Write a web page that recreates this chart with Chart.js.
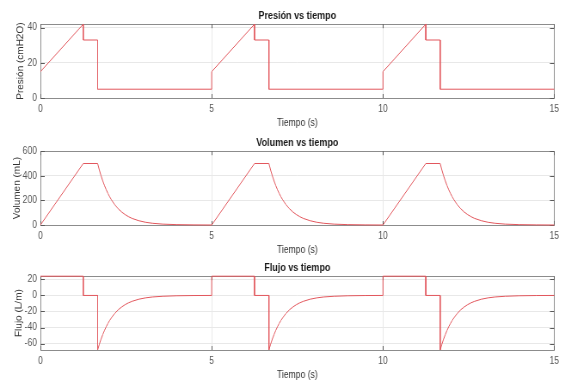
<!DOCTYPE html>
<html lang="es">
<head>
<meta charset="utf-8">
<title>Presión, volumen y flujo vs tiempo</title>
<script src="https://cdn.jsdelivr.net/npm/chart.js@4.4.1/dist/chart.umd.min.js"></script>
<style>
  html, body { margin: 0; padding: 0; background: #ffffff; overflow: hidden; }
  #contenedor { position: relative; width: 563px; height: 380px; overflow: hidden; }
  /* la figura original esta comprimida en horizontal: se dibuja mas ancha y se escala */
  canvas { position: absolute; left: 0; transform-origin: 0 0; transform: scaleX(0.86); }
</style>
</head>
<body>
<div id="contenedor">
  <canvas id="graficoPresion" width="655" height="129" style="top:0px"></canvas>
  <canvas id="graficoVolumen" width="655" height="129" style="top:127px"></canvas>
  <canvas id="graficoFlujo" width="655" height="129" style="top:252px"></canvas>
</div>
<script>
// ticks de los ejes
const ticksTiempo = [0, 5, 10, 15];
const ticksPresion = [0, 20, 40];
const ticksVolumen = [0, 200, 400, 600];
const ticksFlujo = [-60, -40, -20, 0, 20];

// presion (cmH2O)
const tiempoPresion = [0, 1.25, 1.25, 1.67, 1.67, 5.0,
    5.0, 6.25, 6.25, 6.67, 6.67, 10.0,
    10.0, 11.25, 11.25, 11.67, 11.67, 15.0];
const presion = [15, 42, 33, 33, 5, 5,
    15, 42, 33, 33, 5, 5,
    15, 42, 33, 33, 5, 5];

// volumen (mL)
const tiempoVolumen = [0, 1.25,
    1.67, 1.72, 1.77, 1.82, 1.87, 1.92, 1.97, 2.02, 2.07, 2.17, 2.27, 2.37, 2.47, 2.57, 2.67, 2.87, 3.07, 3.27, 3.57, 3.97, 4.47, 5.0,
    6.25,
    6.67, 6.72, 6.77, 6.82, 6.87, 6.92, 6.97, 7.02, 7.07, 7.17, 7.27, 7.37, 7.47, 7.57, 7.67, 7.87, 8.07, 8.27, 8.57, 8.97, 9.47, 10.0,
    11.25,
    11.67, 11.72, 11.77, 11.82, 11.87, 11.92, 11.97, 12.02, 12.07, 12.17, 12.27, 12.37, 12.47, 12.57, 12.67, 12.87, 13.07, 13.27, 13.57, 13.97, 14.47, 15.0];
const volumen = [0, 500,
    500, 447, 400, 358, 321, 287, 257, 230, 206, 165, 132, 106, 85, 68, 54, 35, 22, 14, 7, 3, 1, 0,
    500,
    500, 447, 400, 358, 321, 287, 257, 230, 206, 165, 132, 106, 85, 68, 54, 35, 22, 14, 7, 3, 1, 0,
    500,
    500, 447, 400, 358, 321, 287, 257, 230, 206, 165, 132, 106, 85, 68, 54, 35, 22, 14, 7, 3, 1, 0];

// flujo (L/m)
const tiempoFlujo = [0, 1.25, 1.25, 1.67,
    1.67, 1.72, 1.77, 1.82, 1.87, 1.92, 1.97, 2.02, 2.07, 2.17, 2.27, 2.37, 2.47, 2.57, 2.67, 2.87, 3.07, 3.27, 3.57, 3.97, 4.47, 5.0,
    5.0, 6.25, 6.25, 6.67,
    6.67, 6.72, 6.77, 6.82, 6.87, 6.92, 6.97, 7.02, 7.07, 7.17, 7.27, 7.37, 7.47, 7.57, 7.67, 7.87, 8.07, 8.27, 8.57, 8.97, 9.47, 10.0,
    10.0, 11.25, 11.25, 11.67,
    11.67, 11.72, 11.77, 11.82, 11.87, 11.92, 11.97, 12.02, 12.07, 12.17, 12.27, 12.37, 12.47, 12.57, 12.67, 12.87, 13.07, 13.27, 13.57, 13.97, 14.47, 15.0];
const flujo = [24, 24, 0, 0,
    -68, -60.8, -54.4, -48.7, -43.6, -39.0, -34.9, -31.2, -28.0, -22.4, -17.9, -14.4, -11.5, -9.2, -7.4, -4.7, -3.0, -1.9, -1.0, -0.4, -0.1, 0,
    24, 24, 0, 0,
    -68, -60.8, -54.4, -48.7, -43.6, -39.0, -34.9, -31.2, -28.0, -22.4, -17.9, -14.4, -11.5, -9.2, -7.4, -4.7, -3.0, -1.9, -1.0, -0.4, -0.1, 0,
    24, 24, 0, 0,
    -68, -60.8, -54.4, -48.7, -43.6, -39.0, -34.9, -31.2, -28.0, -22.4, -17.9, -14.4, -11.5, -9.2, -7.4, -4.7, -3.0, -1.9, -1.0, -0.4, -0.1, 0];

const fuente = "'Liberation Sans', Arial, Helvetica, sans-serif";

// caja estilo matlab con ticks hacia adentro
const marcoEjes = {
    id: 'marcoEjes',
    beforeDatasetsDraw(chart) {
        const { ctx, chartArea: a, scales } = chart;
        ctx.save();
        ctx.strokeStyle = '#8c8c8c';
        ctx.lineWidth = 1;
        ctx.strokeRect(Math.round(a.left) + 0.5, Math.round(a.top) + 0.5, Math.round(a.width), Math.round(a.height));
        ctx.strokeStyle = '#5a5a5a';
        ctx.beginPath();
        scales.x.ticks.forEach(function (t) {
            const px = Math.round(scales.x.getPixelForValue(t.value)) + 0.5;
            ctx.moveTo(px, a.bottom); ctx.lineTo(px, a.bottom - 4);
            ctx.moveTo(px, a.top); ctx.lineTo(px, a.top + 4);
        });
        scales.y.ticks.forEach(function (t) {
            const py = Math.round(scales.y.getPixelForValue(t.value)) + 0.5;
            ctx.moveTo(a.left, py); ctx.lineTo(a.left + 5, py);
            ctx.moveTo(a.right, py); ctx.lineTo(a.right - 5, py);
        });
        ctx.stroke();
        ctx.restore();
    }
};

function crearGrafico(idCanvas, titulo, etiquetaY, tiempos, valores, minY, maxY, ticksY, separacionY) {
    const puntos = tiempos.map((t, i) => ({ x: t, y: valores[i] }));
    const ctx = document.getElementById(idCanvas).getContext('2d');

    new Chart(ctx, {
        type: 'line',
        data: {
            datasets: [{
                data: puntos,
                borderColor: '#e2575d',
                borderWidth: 1,
                pointRadius: 0,
                tension: 0,
                clip: false
            }]
        },
        options: {
            responsive: false,
            animation: false,
            layout: { padding: { left: 0, right: 10, top: 0, bottom: 0 } },
            plugins: {
                legend: { display: false },
                tooltip: { enabled: false },
                title: {
                    display: true,
                    text: titulo,
                    fullSize: false,
                    color: '#1a1a1a',
                    font: { family: fuente, size: 10.5, weight: 'bold' },
                    padding: { top: 10, bottom: 1.6 }
                }
            },
            scales: {
                x: {
                    type: 'linear',
                    min: 0,
                    max: 15,
                    afterBuildTicks: function (s) { s.ticks = ticksTiempo.map(v => ({ value: v })); },
                    afterFit: function (s) { s.height = 31; },
                    border: { display: false },
                    grid: { color: '#e8e8e8', drawTicks: false },
                    ticks: {
                        color: '#555555',
                        font: { family: fuente, size: 10 },
                        padding: 5,
                        maxRotation: 0,
                        autoSkip: false
                    },
                    title: {
                        display: true,
                        text: 'Tiempo (s)',
                        color: '#333333',
                        font: { family: fuente, size: 10 },
                        padding: { top: 0, bottom: 0 }
                    }
                },
                y: {
                    type: 'linear',
                    min: minY,
                    max: maxY,
                    afterBuildTicks: function (s) { s.ticks = ticksY.map(v => ({ value: v })); },
                    afterFit: function (s) { s.width = 47; },
                    border: { display: false },
                    grid: { color: '#e8e8e8', drawTicks: false },
                    ticks: {
                        color: '#555555',
                        font: { family: fuente, size: 10 },
                        padding: 4,
                        autoSkip: false
                    },
                    title: {
                        display: true,
                        text: etiquetaY,
                        color: '#333333',
                        font: { family: fuente, size: 10 },
                        padding: { top: separacionY, bottom: 0 }
                    }
                }
            }
        },
        plugins: [marcoEjes]
    });
}

window.onload = function () {
    crearGrafico('graficoPresion', 'Presión vs tiempo', 'Presión (cmH2O)', tiempoPresion, presion, 0, 42, ticksPresion, 18);
    crearGrafico('graficoVolumen', 'Volumen vs tiempo', 'Volumen (mL)', tiempoVolumen, volumen, 0, 600, ticksVolumen, 14);
    crearGrafico('graficoFlujo', 'Flujo vs tiempo', 'Flujo (L/m)', tiempoFlujo, flujo, -68, 24, ticksFlujo, 16);
};
</script>
</body>
</html>
